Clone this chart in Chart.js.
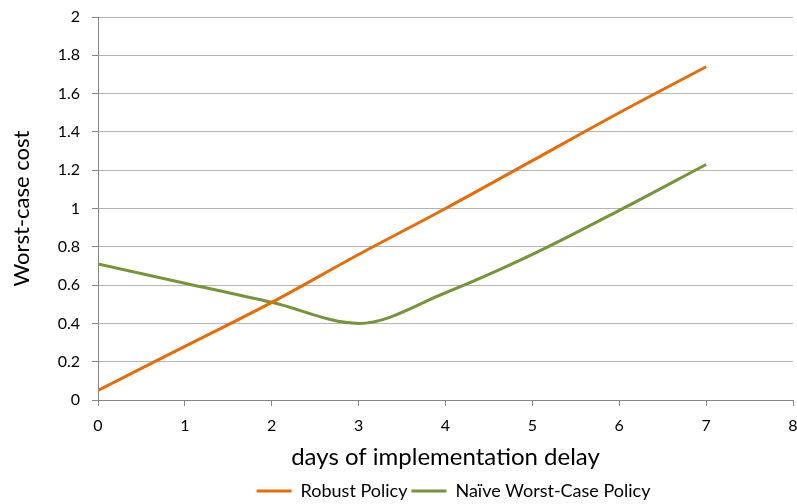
<!DOCTYPE html>
<html>
<head>
<meta charset="utf-8">
<script src="https://cdn.jsdelivr.net/npm/chart.js@4/dist/chart.umd.min.js"></script>
<style>
  html, body { margin: 0; padding: 0; background: #ffffff; }
  #wrap { width: 797px; height: 504px; }
</style>
</head>
<body>
<div id="wrap"><canvas id="c" width="797" height="504"></canvas></div>
<script>
// Days of implementation delay
const delayDays = [0, 1, 2, 3, 4, 5, 6, 7];
// Worst-case cost for each policy
const robustCost = [0.05, 0.28, 0.51, 0.76, 1.00, 1.25, 1.50, 1.74];
const naiveCost = [0.71, 0.61, 0.51, 0.40, 0.56, 0.76, 0.99, 1.23];
const seriesNames = ['Robust Policy', 'Naïve Worst-Case Policy'];
const xAxisTitle = 'days of implementation delay';
const yAxisTitle = 'Worst-case cost';

const FONT = 'Lato, "Open Sans", sans-serif';
const toPoints = (ys) => delayDays.map((x, i) => ({ x, y: ys[i] }));

// Centre the legend under the plot area instead of the whole canvas
const legendShift = {
  id: 'legendShift',
  afterLayout(chart) {
    const lg = chart.legend;
    if (!lg) return;
    lg.left = chart.chartArea.left + 16;
    lg.top += 6;
    lg.bottom += 6;
  }
};

new Chart(document.getElementById('c'), {
  type: 'line',
  data: {
    datasets: [
      {
        label: seriesNames[0],
        data: toPoints(robustCost),
        borderColor: '#E46C0A',
        backgroundColor: '#E46C0A',
        borderWidth: 3,
        pointRadius: 0,
        tension: 0.35,
        cubicInterpolationMode: 'monotone'
      },
      {
        label: seriesNames[1],
        data: toPoints(naiveCost),
        borderColor: '#77933C',
        backgroundColor: '#77933C',
        borderWidth: 3,
        pointRadius: 0,
        tension: 0.35,
        cubicInterpolationMode: 'monotone'
      }
    ]
  },
  plugins: [legendShift],
  options: {
    responsive: false,
    animation: false,
    layout: { padding: { top: 17, right: 4, left: 0, bottom: 0 } },
    plugins: {
      legend: {
        position: 'bottom',
        labels: {
          usePointStyle: true,
          pointStyle: 'line',
          pointStyleWidth: 35,
          boxHeight: 3,
          padding: 4,
          color: '#000',
          font: { family: FONT, size: 18 }
        }
      },
      tooltip: { enabled: false }
    },
    scales: {
      x: {
        type: 'linear',
        min: 0,
        max: 8,
        afterFit: (s) => { s.height = 72; s.paddingLeft = 0; s.paddingRight = 0; },
        ticks: { stepSize: 1, color: '#000', padding: 10, maxRotation: 0, font: { family: FONT, size: 16 } },
        grid: { drawOnChartArea: false, drawTicks: true, tickLength: 6, color: '#868686' },
        border: { color: '#868686', width: 1 },
        title: {
          display: true,
          text: xAxisTitle,
          color: '#000',
          font: { family: FONT, size: 24 },
          padding: { top: 0, bottom: 0 }
        }
      },
      y: {
        min: 0,
        max: 2,
        afterFit: (s) => { s.width = 98; s.paddingTop = 0; s.paddingBottom = 0; },
        ticks: {
          stepSize: 0.2,
          color: '#000',
          padding: 12,
          font: { family: FONT, size: 16 },
          callback: (v) => String(Number(v.toFixed(1)))
        },
        grid: { color: '#b4b4b4', tickLength: 6, tickColor: '#868686' },
        border: { color: '#868686', width: 1 },
        title: {
          display: true,
          text: yAxisTitle,
          color: '#000',
          font: { family: FONT, size: 22 },
          padding: { top: 9, bottom: 0 }
        }
      }
    }
  }
});
</script>
</body>
</html>
